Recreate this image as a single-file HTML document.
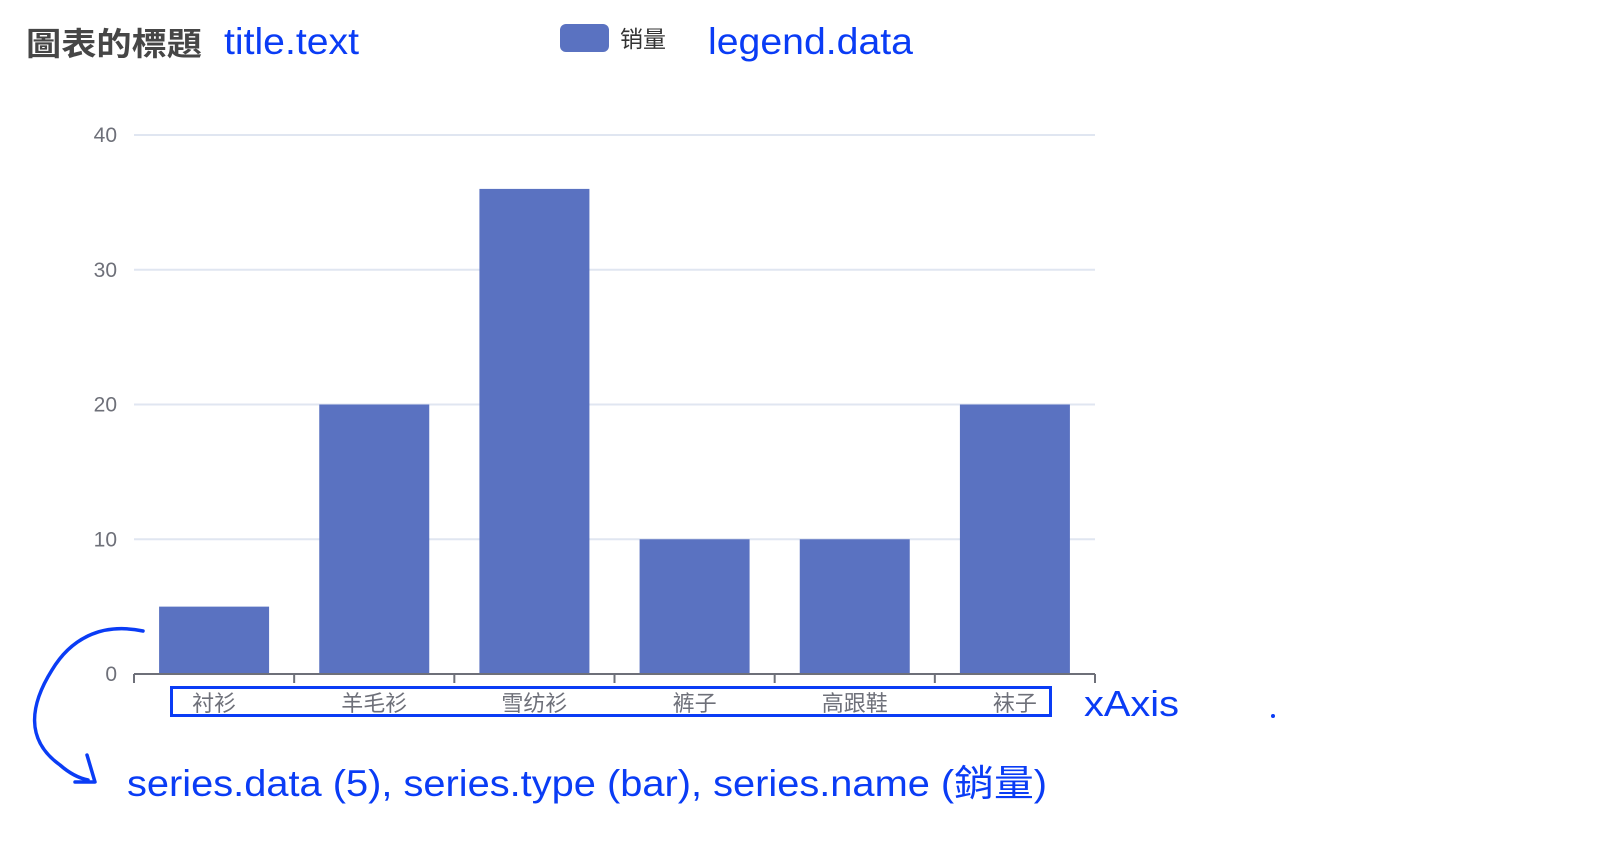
<!DOCTYPE html>
<html><head><meta charset="utf-8">
<style>
html,body{margin:0;padding:0;background:#fff;}
svg{display:block;}
</style></head>
<body>
<svg id="chart" width="1624" height="854" viewBox="0 0 1624 854" xmlns="http://www.w3.org/2000/svg">
  <text x="26" y="55" font-family="Liberation Sans, Noto Sans CJK TC, sans-serif" font-size="32" font-weight="bold" fill="#464646" textLength="176" lengthAdjust="spacingAndGlyphs">圖表的標題</text>
  <text x="224" y="54" font-family="Liberation Sans, sans-serif" font-size="37" fill="#0a3cf5" textLength="135" lengthAdjust="spacingAndGlyphs">title.text</text>
  <rect x="560" y="24" width="49" height="28" rx="6" fill="#5a72c1"/>
  <text x="620" y="47" font-family="Liberation Sans, Noto Sans CJK SC, sans-serif" font-size="23" fill="#333">销量</text>
  <text x="708" y="54" font-family="Liberation Sans, sans-serif" font-size="37" fill="#0a3cf5" textLength="205" lengthAdjust="spacingAndGlyphs">legend.data</text>
  <g id="grid"></g>
  <g id="ylabels"></g>
  <g id="bars"></g>
  <g id="xaxis"></g>
  <rect x="171.5" y="687.5" width="879" height="28" fill="none" stroke="#0a3cf5" stroke-width="3"/>
  <text x="1084" y="716" font-family="Liberation Sans, sans-serif" font-size="36" fill="#0a3cf5" textLength="95" lengthAdjust="spacingAndGlyphs">xAxis</text>
  <circle cx="1273" cy="716" r="2" fill="#0a3cf5"/>
  <path d="M143,631 C100,622 70,640 52,670 C30,705 25,740 60,765 C68,772 78,778 88,780" fill="none" stroke="#0a3cf5" stroke-width="3.5" stroke-linecap="round"/>
  <path d="M87,755 L95,782 L75,782" fill="none" stroke="#0a3cf5" stroke-width="3.5" stroke-linecap="round" stroke-linejoin="round"/>
  <text x="127" y="796" font-family="Liberation Sans, Noto Sans CJK TC, sans-serif" font-size="37" fill="#0a3cf5" textLength="920" lengthAdjust="spacingAndGlyphs">series.data (5), series.type (bar), series.name (銷量)</text>
</svg>
<script>
const categories = ['衬衫','羊毛衫','雪纺衫','裤子','高跟鞋','袜子'];
const salesValues = [5, 20, 36, 10, 10, 20];
const yTicks = [0, 10, 20, 30, 40];

const NS = 'http://www.w3.org/2000/svg';
const plotLeft = 134, plotRight = 1095, plotTop = 135, plotBottom = 674;
const yMax = 40;
const band = (plotRight - plotLeft) / categories.length;
const barW = 110;
function yScale(v){ return plotBottom - (v / yMax) * (plotBottom - plotTop); }
function xBand(i){ return plotLeft + i * band; }
function mk(tag, attrs){ const e = document.createElementNS(NS, tag); for (const k in attrs) e.setAttribute(k, attrs[k]); return e; }

const grid = document.getElementById('grid');
const yl = document.getElementById('ylabels');
yTicks.forEach(t => {
  const y = yScale(t);
  if (t !== 0) {
    const l = mk('line', {x1: plotLeft, x2: plotRight, y1: y, y2: y, stroke: '#e0e6f1', 'stroke-width': 2});
    
    
    grid.appendChild(l);
  }
  const tx = mk('text', {x: 117, y: y + 7, 'text-anchor': 'end', 'font-family': 'Liberation Sans, sans-serif', 'font-size': 21, fill: '#6e7079'});
  tx.textContent = t;
  
  
  yl.appendChild(tx);
});

const bars = document.getElementById('bars');
salesValues.forEach((v, i) => {
  const x = xBand(i) + (band - barW) / 2;
  const r = mk('rect', {x: x, y: yScale(v), width: barW, height: yScale(0) - yScale(v), fill: '#5a72c1'});
  
  
  bars.appendChild(r);
});

const xa = document.getElementById('xaxis');
const axisLine = mk('line', {x1: plotLeft, x2: plotRight, y1: plotBottom, y2: plotBottom, stroke: '#6e7079', 'stroke-width': 2});


xa.appendChild(axisLine);
for (let i = 0; i <= categories.length; i++) {
  const x = xBand(i);
  const tk = mk('line', {x1: x, x2: x, y1: plotBottom, y2: plotBottom + 9, stroke: '#6e7079', 'stroke-width': 2});
  
  
  xa.appendChild(tk);
}
categories.forEach((c, i) => {
  const tx = mk('text', {x: xBand(i) + band / 2, y: 711, 'text-anchor': 'middle', 'font-family': 'Liberation Sans, Noto Sans CJK SC, sans-serif', 'font-size': 22, fill: '#6e7079'});
  tx.textContent = c;
  
  
  xa.appendChild(tx);
});
</script>
</body></html>
